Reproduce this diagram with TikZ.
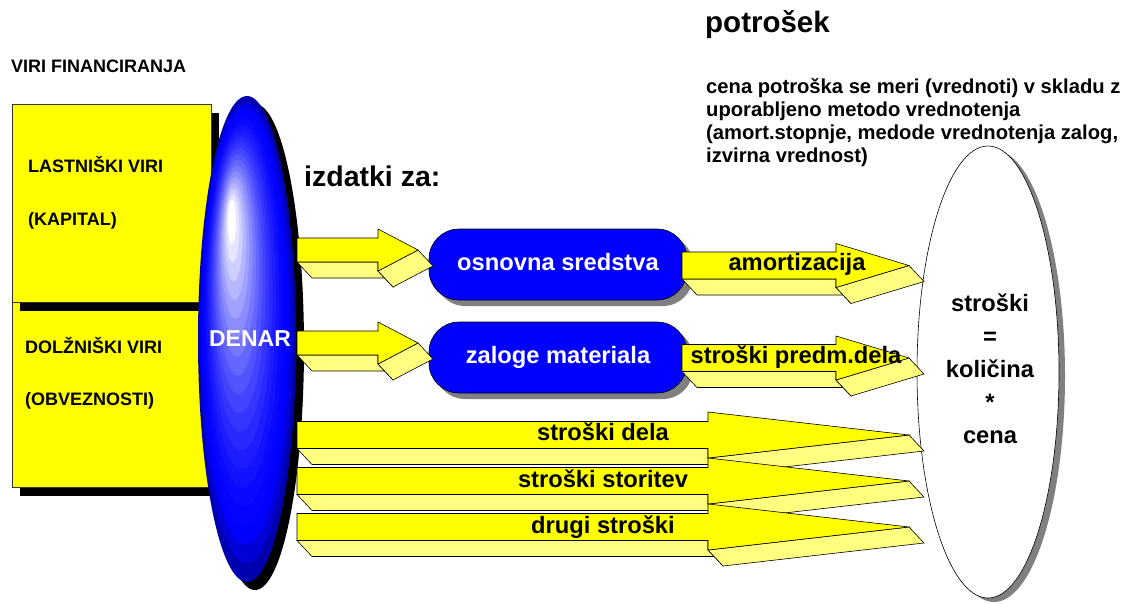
\documentclass[tikz,border=0pt]{standalone}
\usepackage{fontspec}
\setmainfont{Liberation Sans}
\usetikzlibrary{shapes.geometric,shadows}
\definecolor{ylw}{RGB}{255,255,0}
\definecolor{lylw}{RGB}{255,255,128}
\definecolor{bl}{RGB}{0,0,255}
\definecolor{bldark}{RGB}{0,0,175}
\definecolor{blmid}{RGB}{0,0,215}
\definecolor{shgray}{RGB}{128,128,128}
\tikzset{
  afront/.style={fill=ylw,draw=black,line width=0.6pt,line join=miter},
  aside/.style={fill=lylw,draw=black,line width=0.6pt,line join=miter},
  ybox/.style={draw=black!80,line width=0.6pt,fill=ylw,inner sep=0pt,minimum width=199pt,
    drop shadow={shadow xshift=8pt,shadow yshift=-9pt,fill=black,opacity=1}},
  bluebox/.style={draw=black,line width=0.6pt,fill=bl,rounded corners=30pt,inner sep=0pt,
    minimum width=258pt,minimum height=71pt,
    drop shadow={shadow xshift=6pt,shadow yshift=-6pt,fill=shgray,opacity=1}},
  tsmall/.style={font=\bfseries\fontsize{18}{21}\selectfont,anchor=base west,inner sep=0pt},
  tpara/.style={font=\bfseries\fontsize{20.2}{23}\selectfont,anchor=base west,inner sep=0pt},
  tbig/.style={font=\bfseries\fontsize{28.5}{32}\selectfont,anchor=base west,inner sep=0pt},
  tmid/.style={font=\bfseries\fontsize{23.7}{28}\selectfont,anchor=base,inner sep=0pt},
}
% #1 x start, #2 x head base, #3 x tip, #4 y centre, #5 half shaft, #6 half head
\newcommand{\blockarrow}[6]{%
  \filldraw[aside] (#1,#4+#5) -- (#2,#4+#5) -- (#2+15,#4+#5+16) -- (#1+15,#4+#5+16) -- cycle;
  \filldraw[aside] (#2,#4+#5) -- (#2,#4+#6) -- (#2+15,#4+#6+16) -- (#2+15,#4+#5+16) -- cycle;
  \filldraw[aside] (#2,#4+#6) -- (#3,#4) -- (#3+15,#4+16) -- (#2+15,#4+#6+16) -- cycle;
  \filldraw[afront] (#1,#4-#5) -- (#2,#4-#5) -- (#2,#4-#6) -- (#3,#4) -- (#2,#4+#6)
     -- (#2,#4+#5) -- (#1,#4+#5) -- cycle;
}
\begin{document}
\begin{tikzpicture}[x=1pt,y=-1pt]
\useasboundingbox (0,0) rectangle (1127,603);
\fill[white] (0,0) rectangle (1127,603);

% headings
\node[tbig,font=\bfseries\fontsize{29.5}{33}\selectfont] (potrosek) at (705,32) {potrošek};
\node[tpara] (p1) at (706,93) {cena potroška se meri (vrednoti) v skladu z};
\node[tpara] (p2) at (706,116) {uporabljeno metodo vrednotenja};
\node[tpara] (p3) at (706,139) {(amort.stopnje, medode vrednotenja zalog,};
\node[tpara] (p4) at (706,162) {izvirna vrednost)};
\node[tsmall] (viri) at (11,72) {VIRI FINANCIRANJA};
\node[tbig] (izdatki) at (304,186) {izdatki za:};

% sources boxes
\node[ybox,minimum height=185pt] (dolg) at (111.5,394.5) {};
\node[ybox,minimum height=198pt] (last) at (111.5,203) {};
\node[tsmall] (t1) at (28,172) {LASTNIŠKI VIRI};
\node[tsmall] (t2) at (28,225) {(KAPITAL)};
\node[tsmall] (t3) at (25,353) {DOLŽNIŠKI VIRI};
\node[tsmall] (t4) at (25,405) {(OBVEZNOSTI)};

% money ellipse
\fill[black] (255,347) ellipse [x radius=49pt, y radius=243pt];
\fill[bldark] (247,339) ellipse [x radius=49pt, y radius=243pt];
\foreach \i in {1,...,18}{
  \pgfmathsetmacro\t{\i/18}
  \pgfmathsetmacro\cx{247+(232-247)*\t}
  \pgfmathsetmacro\cy{339+(222-339)*\t}
  \pgfmathsetmacro\rx{49+(4-49)*\t}
  \pgfmathsetmacro\ry{243+(22-243)*\t}
  \pgfmathsetmacro\w{100*(max(\i-2,0.01)/16)^1.6}
  \ifnum\i=1
    \fill[blmid] (\cx,\cy) ellipse [x radius=\rx pt, y radius=\ry pt];
  \else
    \fill[white!\w!bl] (\cx,\cy) ellipse [x radius=\rx pt, y radius=\ry pt];
  \fi
}
\coordinate (money) at (247,339);
\node[font=\bfseries\fontsize{23}{27}\selectfont,text=white,inner sep=0pt] (denar) at (250,339) {DENAR};

% assets boxes
\node[bluebox] (os) at (558,264.5) {};
\node[bluebox] (zm) at (558,357.5) {};
\node[tmid,text=white] (ost) at (558,270) {osnovna sredstva};
\node[tmid,text=white] (zmt) at (558,363) {zaloge materiala};

% cost ellipse
\node[draw=black,line width=0.6pt,fill=white,ellipse,inner sep=0pt,minimum width=142pt,minimum height=452pt,
  drop shadow={shadow xshift=6pt,shadow yshift=-4pt,fill=shgray,opacity=1}] (cost) at (988,372) {};
\node[tmid] (c1) at (990,311.7) {stroški};
\node[tmid] (c2) at (990,344.7) {=};
\node[tmid] (c3) at (990,377.7) {količina};
\node[tmid] (c4) at (990,410.7) {*};
\node[tmid] (c5) at (990,443.7) {cena};

% block arrows
\blockarrow{297}{378}{418}{250}{12}{21}
\blockarrow{297}{378}{418}{343}{12}{21}
\blockarrow{682}{836}{909}{265.5}{13.5}{22}
\blockarrow{682}{836}{909}{358}{13.5}{22}
\blockarrow{297}{708}{909}{435}{13.5}{23}
\blockarrow{297}{708}{909}{481}{13.5}{23}
\blockarrow{297}{708}{909}{527}{13.5}{23}

\node[tmid] (a1) at (797,270) {amortizacija};
\node[tmid] (a2) at (796,363) {stroški predm.dela};
\node[tmid] (a3) at (603,440) {stroški dela};
\node[tmid] (a4) at (603,487) {stroški storitev};
\node[tmid] (a5) at (603,533) {drugi stroški};
\end{tikzpicture}
\end{document}
